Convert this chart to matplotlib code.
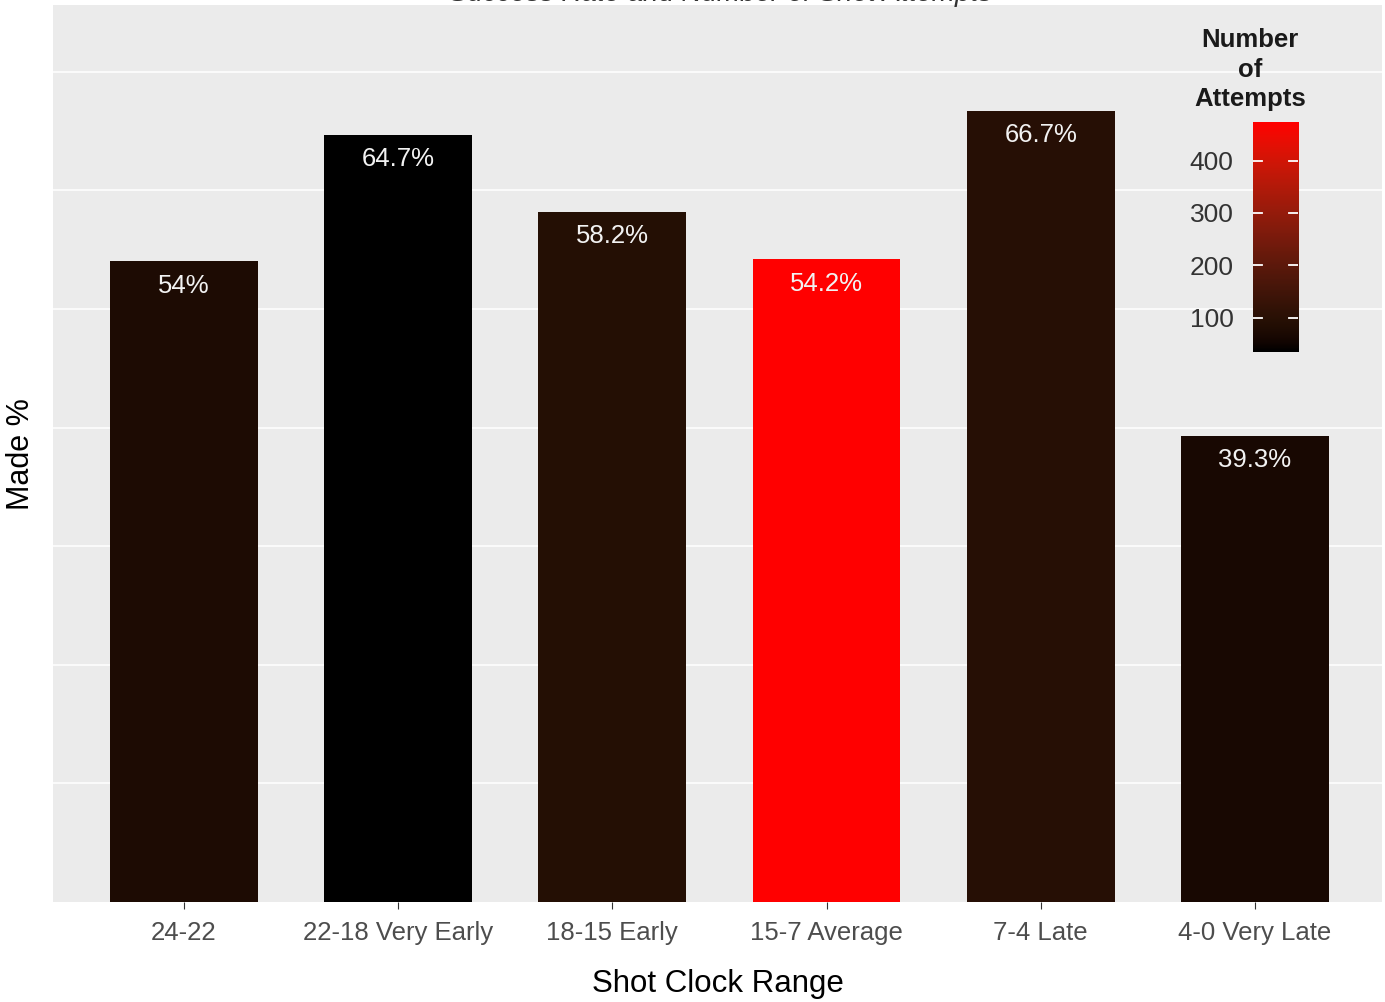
#!/usr/bin/env python3
import numpy as np
import matplotlib
matplotlib.use("Agg")
import matplotlib.pyplot as plt
from matplotlib.colors import ListedColormap, Normalize
plt.rcParams['font.family'] = ['Liberation Sans', 'DejaVu Sans']

# data
ranges = ["24-22", "22-18 Very Early", "18-15 Early", "15-7 Average", "7-4 Late", "4-0 Very Late"]
made_pct = [54.0, 64.7, 58.2, 54.2, 66.7, 39.3]
pct_labels = ["54%", "64.7%", "58.2%", "54.2%", "66.7%", "39.3%"]
attempts = [72, 34, 88, 474, 93, 63]
cbar_ticks = [100, 200, 300, 400]


def lab_to_rgb(L, a, b):
    """ CIE Lab (D65) -> sRGB, used to mimic ggplot's black->red gradient """
    fy = (L + 16) / 116.0
    fx = fy + a / 500.0
    fz = fy - b / 200.0

    def finv(t):
        d = 6 / 29.0
        return np.where(t > d, t ** 3, 3 * d * d * (t - 4 / 29.0))
    X = 0.95047 * finv(fx)
    Y = 1.0 * finv(fy)
    Z = 1.08883 * finv(fz)
    r = 3.2406 * X - 1.5372 * Y - 0.4986 * Z
    g = -0.9689 * X + 1.8758 * Y + 0.0415 * Z
    bb = 0.0557 * X - 0.2040 * Y + 1.0570 * Z
    rgb = np.stack([r, g, bb], axis=-1)
    rgb = np.clip(rgb, 0, 1)
    rgb = np.where(rgb > 0.0031308, 1.055 * rgb ** (1 / 2.4) - 0.055, 12.92 * rgb)
    return np.clip(rgb, 0, 1)


t = np.linspace(0, 1, 256)
red_lab = (53.24, 80.09, 67.20)
cmap = ListedColormap(lab_to_rgb(t * red_lab[0], t * red_lab[1], t * red_lab[2]))
norm = Normalize(vmin=min(attempts), vmax=max(attempts))

fig = plt.figure(figsize=(13.85, 10.02), dpi=100)
ax = fig.add_axes([0.0383, 0.0998, 0.9595, 0.895])
ax.set_facecolor('#EBEBEB')
for s in ax.spines.values():
    s.set_visible(False)

x = np.arange(1, len(ranges) + 1)
ax.set_xlim(0.389, 6.593)
ax.set_ylim(0, 75.6)
for g in [10, 20, 30, 40, 50, 60, 70]:
    ax.axhline(g, color='white', lw=1.1, zorder=0)

bars = ax.bar(x, made_pct, width=0.69, color=cmap(norm(attempts)), zorder=2)
for xi, v, lab in zip(x, made_pct, pct_labels):
    ax.annotate(lab, (xi, v), xytext=(0, -9), textcoords='offset points',
                ha='center', va='top', color='#F2F2F2', fontsize=18.5, zorder=3)

ax.set_xticks(x)
ax.set_xticklabels(ranges, fontsize=18.5, color='#4D4D4D')
ax.tick_params(axis='x', length=5, color='#333333', pad=9)
ax.set_yticks([])
ax.set_xlabel("Shot Clock Range", fontsize=22.5, color='black', labelpad=17)
ax.set_ylabel("Made %", fontsize=22, color='black', labelpad=12)

# title, cut off at the top edge of the picture
fig.text(0.52, 1.006, "Success Rate and Number of Shot Attempts", ha='center', va='center',
         fontsize=20, style='italic', color='#333333')

# colour bar legend sitting inside the panel
cax = fig.add_axes([0.9047, 0.6487, 0.0325, 0.2295])
grad = np.linspace(norm.vmin, norm.vmax, 300).reshape(-1, 1)
cax.imshow(grad, aspect='auto', origin='lower', cmap=cmap, norm=norm,
           extent=[0, 1, norm.vmin, norm.vmax])
cax.set_xlim(0, 1)
cax.set_ylim(norm.vmin, norm.vmax)
for s in cax.spines.values():
    s.set_visible(False)
cax.set_xticks([])
cax.set_yticks(cbar_ticks)
cax.set_yticklabels([str(c) for c in cbar_ticks], fontsize=19, color='#333333')
cax.tick_params(axis='y', length=0, pad=14)
for c in cbar_ticks:
    cax.plot([0, 0.2], [c, c], color='white', lw=1.3)
    cax.plot([0.8, 1], [c, c], color='white', lw=1.3)
fig.text(0.9025, 0.972, "Number\nof\nAttempts", ha='center', va='top', fontsize=18.5,
         fontweight='bold', color='#1a1a1a', linespacing=1.3)

fig.savefig("out.png", dpi=100)
